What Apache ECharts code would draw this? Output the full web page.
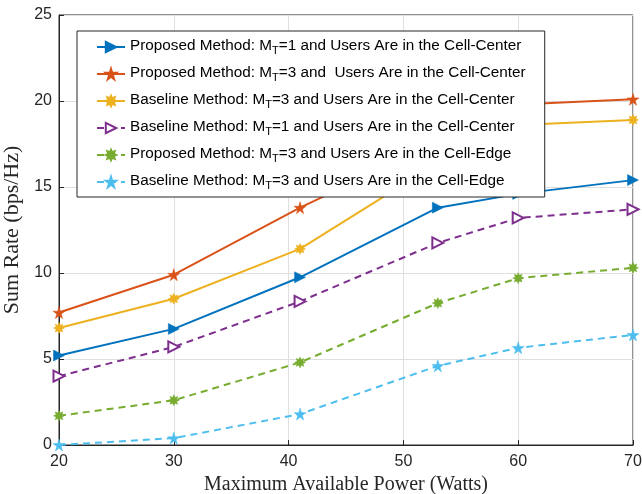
<!DOCTYPE html>
<html><head><meta charset="utf-8">
<script src="https://cdn.jsdelivr.net/npm/echarts@6/dist/echarts.min.js"></script>
<style>html,body{margin:0;padding:0;background:#fff}#c{width:642px;height:494px}</style>
</head><body><div id="c"></div>
<script>
var xPower = [20, 30, 41, 53, 60, 70];
var propM1Center = [5.2, 6.75, 9.75, 13.8, 14.6, 15.4];
var propM3Center = [7.7, 9.9, 13.8, 17.6, 19.8, 20.1];
var baseM3Center = [6.8, 8.5, 11.4, 16.4, 18.6, 18.9];
var baseM1Center = [4.0, 5.7, 8.35, 11.75, 13.2, 13.7];
var propM3Edge = [1.7, 2.6, 4.8, 8.25, 9.7, 10.3];
var baseM3Edge = [0.0, 0.4, 1.8, 4.6, 5.65, 6.4];
var xTicks = [20, 30, 40, 50, 60, 70];
var yTicks = [0, 5, 10, 15, 20, 25];
var seriesNames = [
  'Proposed Method: M_T=1 and Users Are in the Cell-Center',
  'Proposed Method: M_T=3 and  Users Are in the Cell-Center',
  'Baseline Method: M_T=3 and Users Are in the Cell-Center',
  'Baseline Method: M_T=1 and Users Are in the Cell-Center',
  'Proposed Method: M_T=3 and Users Are in the Cell-Edge',
  'Baseline Method: M_T=3 and Users Are in the Cell-Edge'
];
var colors = ['#0072BD', '#D95319', '#EDB120', '#7E2F8E', '#77AC30', '#4DBEEE'];

var star5 = 'path://M50,0 L61,35 L98,35 L68,57 L79,91 L50,70 L21,91 L32,57 L2,35 L39,35 Z';
var burst = 'path://M50,0 L60.7,24.1 L85.4,14.6 L75.9,39.3 L100,50 L75.9,60.7 L85.4,85.4 L60.7,75.9 L50,100 L39.3,75.9 L14.6,85.4 L24.1,60.7 L0,50 L24.1,39.3 L14.6,14.6 L39.3,24.1 Z';

function pairs(ys) { return xPower.map(function (x, i) { return [x, ys[i]]; }); }

var datasets = [propM1Center, propM3Center, baseM3Center, baseM1Center, propM3Edge, baseM3Edge];
var symbols = ['triangle', star5, burst, 'emptyTriangle', burst, star5];
var rotates = [-90, 0, 0, -90, 0, 0];
var sizes = [11, 12, 11, 11, 11, 12];
var dashed = [false, false, false, true, true, true];

var series = datasets.map(function (d, i) {
  return {
    name: seriesNames[i],
    type: 'line',
    data: pairs(d),
    symbol: symbols[i],
    symbolRotate: rotates[i],
    symbolSize: sizes[i],
    showAllSymbol: true,
    lineStyle: { color: colors[i], width: 2, type: dashed[i] ? [7, 5] : 'solid' },
    itemStyle: { color: colors[i], borderColor: colors[i], borderWidth: i === 3 ? 2 : 0.5 },
    emphasis: { disabled: true },
    z: 3
  };
});

var chart = echarts.init(document.getElementById('c'), null, { renderer: 'canvas' });
chart.setOption({
  backgroundColor: '#fff',
  animation: false,
  color: colors,
  grid: { left: 59, right: 9, top: 15, bottom: 49, outerBoundsMode: 'none', containLabel: false, show: true, borderColor: '#262626', borderWidth: 1, backgroundColor: 'transparent' },
  legend: {
    orient: 'vertical',
    left: 77, top: 31,
    padding: [6, 19, 6, 19],
    itemGap: 8,
    itemWidth: 28,
    itemHeight: 13,
    backgroundColor: '#fff',
    borderColor: '#262626',
    borderWidth: 1,
    borderRadius: 0,
    data: seriesNames,
    formatter: function (n) {
      var p = n.split('M_T');
      return '{a|' + p[0] + 'M}{s|T}{a|' + p[1] + '}';
    },
    textStyle: {
      color: '#000',
      fontFamily: 'Liberation Sans, Arial, sans-serif',
      fontSize: 15.3,
      rich: {
        a: { fontSize: 15.3, fontFamily: 'Liberation Sans, Arial, sans-serif', color: '#000', lineHeight: 18, verticalAlign: 'top' },
        s: { fontSize: 11, fontFamily: 'Liberation Sans, Arial, sans-serif', color: '#000', lineHeight: 18, verticalAlign: 'bottom', padding: [8, 0, 0, 0] }
      }
    }
  },
  xAxis: {
    type: 'value', min: 20, max: 70, interval: 10,
    name: 'Maximum Available Power (Watts)',
    nameLocation: 'middle', nameGap: 30,
    nameTextStyle: { fontFamily: 'Liberation Serif, Times New Roman, serif', fontSize: 20, color: '#262626' },
    axisLine: { show: true, lineStyle: { color: '#262626', width: 1 } },
    axisTick: { show: true, inside: true, length: 5, lineStyle: { color: '#262626' } },
    axisLabel: { fontFamily: 'Liberation Sans, Arial, sans-serif', fontSize: 16, color: '#262626', margin: 9 },
    splitLine: { show: true, lineStyle: { color: '#dfdfdf', width: 1 } }
  },
  yAxis: {
    type: 'value', min: 0, max: 25, interval: 5,
    name: 'Sum Rate (bps/Hz)',
    nameLocation: 'middle', nameGap: 36,
    nameTextStyle: { fontFamily: 'Liberation Serif, Times New Roman, serif', fontSize: 22, color: '#262626' },
    axisLine: { show: true, lineStyle: { color: '#262626', width: 1 } },
    axisTick: { show: true, inside: true, length: 5, lineStyle: { color: '#262626' } },
    axisLabel: { fontFamily: 'Liberation Sans, Arial, sans-serif', fontSize: 16, color: '#262626', margin: 7 },
    splitLine: { show: true, lineStyle: { color: '#dfdfdf', width: 1 } }
  },
  series: series
});
</script></body></html>
